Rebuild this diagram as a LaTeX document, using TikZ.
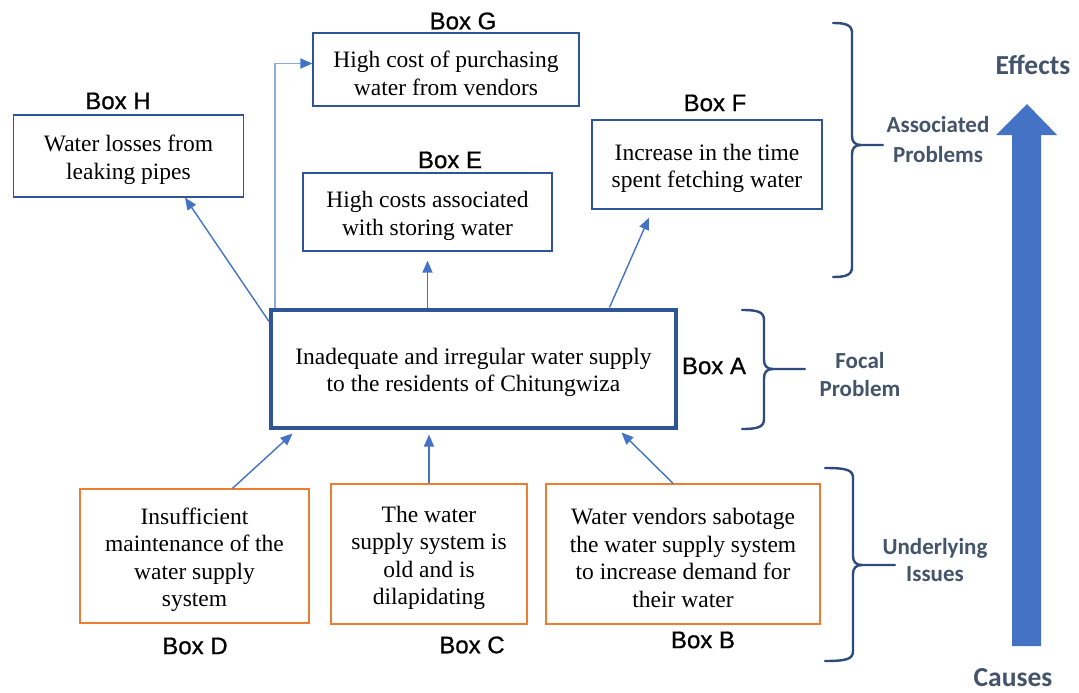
\documentclass[tikz,border=0pt]{standalone}
\usepackage{fontspec}
\setmainfont{Liberation Serif}
\newfontfamily\labelfont[FakeBold=0.8]{Liberation Sans}
\newfontfamily\notefont{Carlito}
\usetikzlibrary{arrows.meta}

\definecolor{boxblue}{HTML}{2F5597}
\definecolor{arrowblue}{HTML}{4472C4}
\definecolor{paleblue}{HTML}{8FAADC}
\definecolor{causeorange}{HTML}{ED7D31}
\definecolor{bracenavy}{HTML}{2F4B7C}
\definecolor{notegray}{HTML}{44546A}

% tall strut on the first line sets the text a little below the box centre
\newcommand\fs{\rule{0pt}{24pt}}

\tikzset{
  effectbox/.style={draw=boxblue, line width=1.3pt, fill=white, inner sep=0pt,
    align=center, font=\fontsize{23.5}{27.5}\selectfont},
  causebox/.style={effectbox, draw=causeorange},
  focalbox/.style={effectbox, line width=4pt},
  boxlabel/.style={font=\labelfont\fontsize{24}{28}\selectfont, inner sep=0pt},
  note/.style={font=\notefont\bfseries\fontsize{23}{28}\selectfont, text=notegray,
    align=center, inner sep=0pt},
  bignote/.style={note, font=\notefont\bfseries\fontsize{27.5}{32}\selectfont},
  link/.style={draw=arrowblue, line width=1.4pt, -{Triangle[length=12pt,width=10pt]}},
  palelink/.style={link, draw=paleblue, line width=1.9pt,
    -{Triangle[length=12pt,width=10pt,color=arrowblue]}},
  bracepath/.style={draw=bracenavy, line width=2.4pt, line cap=round, line join=round},
}

% right-hand curly brace: hook x, spine x, top y, middle y, bottom y, tip x
\newcommand\sidebrace[6]{%
  \draw[bracepath] (#1,#3) .. controls ({#2-6},#3) and (#2,{#3+2}) .. (#2,{#3+10})
    -- (#2,{#4-9}) .. controls (#2,{#4-3}) and ({#2+3},#4) .. ({#2+9},#4) -- (#6,#4);
  \draw[bracepath] ({#2+9},#4) .. controls ({#2+3},#4) and (#2,{#4+3}) .. (#2,{#4+9})
    -- (#2,{#5-10}) .. controls (#2,{#5-2}) and ({#2-6},#5) .. (#1,#5);
}

\begin{document}
\begin{tikzpicture}[x=1pt, y=-1pt]
\fill[white] (0,0) rectangle (1079,693);
\useasboundingbox (0,0) rectangle (1079,693);

% effects (top row)
\node[effectbox, minimum width=266pt, minimum height=73pt] (G) at (446,69.5)
  {\fs High cost of purchasing\\water from vendors};
\node[effectbox, minimum width=230pt, minimum height=82pt] (H) at (128.5,156)
  {\fs Water losses from\\leaking pipes};
\node[effectbox, minimum width=230pt, minimum height=89pt] (F) at (707,164.5)
  {\fs Increase in the time\\spent fetching water};
\node[effectbox, minimum width=249pt, minimum height=78pt] (E) at (427.5,212)
  {\fs High costs associated\\with storing water};

% focal problem
\node[focalbox, minimum width=405pt, minimum height=118pt] (A) at (473.5,368.5)
  {\fs Inadequate and irregular water supply\\to the residents of Chitungwiza};

% causes (bottom row)
\node[causebox, minimum width=229pt, minimum height=134pt] (D) at (194.5,556)
  {\fs Insufficient\\maintenance of the\\water supply\\system};
\node[causebox, minimum width=196pt, minimum height=140pt] (C) at (429,554)
  {\fs The water\\supply system is\\old and is\\dilapidating};
\node[causebox, minimum width=274pt, minimum height=140pt] (B) at (683,554)
  {\fs Water vendors sabotage\\the water supply system\\to increase demand for\\their water};

% box captions
\node[boxlabel] (lG) at (463,21) {Box G};
\node[boxlabel] (lH) at (118,101) {Box H};
\node[boxlabel] (lE) at (450,160) {Box E};
\node[boxlabel] (lF) at (715,103) {Box F};
\node[boxlabel] (lA) at (714,366) {Box A};
\node[boxlabel] (lD) at (195,646) {Box D};
\node[boxlabel] (lC) at (472,645) {Box C};
\node[boxlabel] (lB) at (703,640) {Box B};

% connectors
\coordinate (aE) at (A.north -| E.south);
\coordinate (aC) at (C.north |- A.south);
\draw[link] ([yshift=-14pt]A.north west) -- ([xshift=56.5pt]H.south);
\draw[palelink] ([xshift=6pt]A.north west) |- ([yshift=6pt]G.west);
\draw[link] (aE) -- ([yshift=-9pt]E.south);
\draw[link] ([xshift=136pt]A.north) -- ([xshift=-58pt,yshift=-8pt]F.south);
\draw[link] ([xshift=38pt]D.north) -- ([xshift=-181pt,yshift=-4pt]A.south);
\draw[link] (C.north) -- ([yshift=-5pt]aC);
\draw[link] ([xshift=-10pt]B.north) -- ([xshift=148pt,yshift=-3pt]A.south);

% braces and their notes
\sidebrace{833}{852}{23}{145}{277}{883}
\sidebrace{742}{764}{310}{369}{429}{805}
\sidebrace{825}{853}{468}{565}{661}{895}
\node[note, font=\notefont\bfseries\fontsize{23}{30}\selectfont] (nAssoc) at (938,140)
  {Associated\\Problems};
\node[note] (nFocal) at (860,375) {Focal\\Problem};
\node[note, font=\notefont\bfseries\fontsize{23}{27}\selectfont] (nUnder) at (935,560)
  {Underlying\\Issues};

% cause-to-effect arrow
\fill[arrowblue] (1012,646) -- (1012,135) -- (996,135) -- (1027,104)
  -- (1057,135) -- (1041,135) -- (1041,646) -- cycle;
\node[bignote] (nEffects) at (1033,65) {Effects};
\node[bignote] (nCauses) at (1013,678) {Causes};
\end{tikzpicture}
\end{document}
